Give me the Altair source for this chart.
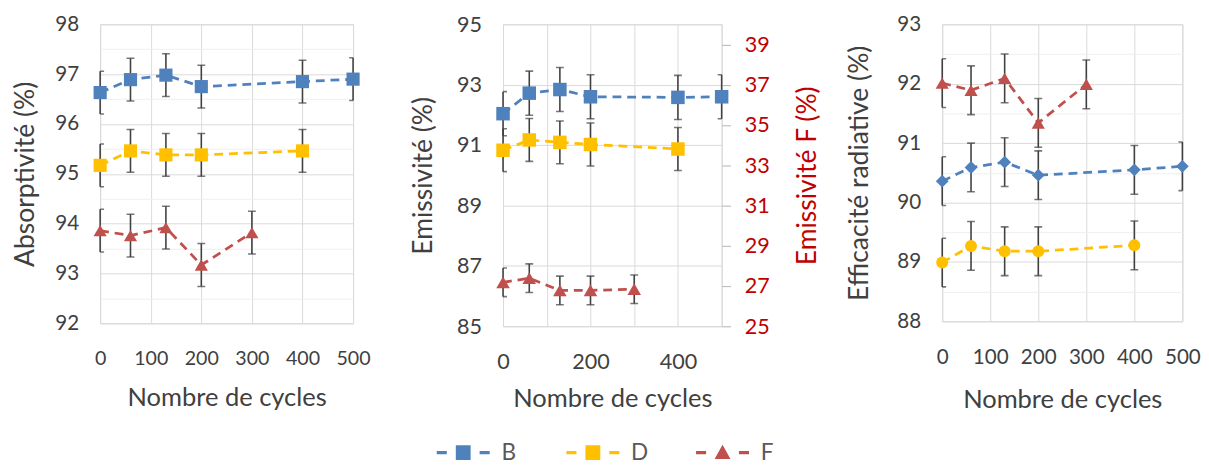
import altair as alt
import pandas as pd

# ---------------- data ----------------
SERIES = ["B", "D", "F"]
COLORS = ["#4F81BD", "#FFC000", "#C0504D"]

CYCLES = {
    "B": [0, 60, 130, 200, 400, 500],
    "D": [0, 60, 130, 200, 400],
    "F": [0, 60, 130, 200, 300],
}

# Panel 1: Absorptivité (%)
ABS_B = [96.63, 96.89, 96.98, 96.75, 96.85, 96.90]
ABS_D = [95.17, 95.46, 95.38, 95.38, 95.46]
ABS_F = [93.86, 93.76, 93.92, 93.17, 93.82]
ABS_ERR = {"B": 0.43, "D": 0.43, "F": 0.43}

# Panel 2: Emissivité (%)  (F on right axis: Emissivité F (%))
EMI_B = [92.04, 92.72, 92.84, 92.60, 92.58, 92.60]
EMI_D = [90.83, 91.17, 91.09, 91.02, 90.87]
EMI_F = [27.18, 27.39, 26.78, 26.78, 26.84]
EMI_ERR = {"B": 0.73, "D": 0.71, "F": 0.71}

# Panel 3: Efficacité radiative (%)
EFF_B = [90.36, 90.59, 90.68, 90.46, 90.55, 90.61]
EFF_D = [88.99, 89.27, 89.18, 89.18, 89.28]
EFF_F = [92.01, 91.89, 92.09, 91.34, 91.99]
EFF_ERR = {"B": 0.41, "D": 0.41, "F": 0.41}

X_TICKS = [0, 100, 200, 300, 400, 500]
ABS_TICKS = [92, 92.5, 93, 93.5, 94, 94.5, 95, 95.5, 96, 96.5, 97, 97.5, 98]
EMI_TICKS = [85, 87, 89, 91, 93, 95]
EMIF_TICKS = [25, 27, 29, 31, 33, 35, 37, 39]
EFF_TICKS = [88, 88.5, 89, 89.5, 90, 90.5, 91, 91.5, 92, 92.5, 93]

# ---------------- styling ----------------
FONT = "Lato"
TXT = "#404040"
ERRC = "#404040"
GRID = "#D9D9D9"
MINOR = "#EFEFEF"
RED_AX = "#C00000"
YT = 27   # y-title font size
XT = 26   # x-title font size
COLOR_OF = dict(zip(SERIES, COLORS))
color_scale = alt.Scale(domain=SERIES, range=COLORS)

SQ_PATH = "M-1,-0.06H-0.62V0.06H-1Z M-0.28,-0.28H0.28V0.28H-0.28Z M0.62,-0.06H1V0.06H0.62Z"
TRI_PATH = "M-1,-0.06H-0.62V0.06H-1Z M0,-0.3L0.3,0.24H-0.3Z M0.62,-0.06H1V0.06H0.62Z"


def frame(vals, errs, series=SERIES):
    rows = []
    for s in series:
        for c, v in zip(CYCLES[s], vals[s]):
            rows.append({"ser": s, "cyc": c, "val": v, "lo": v - errs[s], "hi": v + errs[s]})
    return pd.DataFrame(rows)


def x_axis(label_expr, lpad, tpad, lsize):
    return alt.Axis(values=X_TICKS, labelExpr=label_expr, title="Nombre de cycles",
                    ticks=False, domain=False, grid=True, gridColor=GRID,
                    labelFontSize=lsize, labelPadding=lpad, titleFontSize=XT,
                    titlePadding=tpad, labelFlush=False)


def y_axis_minor(values, title, tpad):
    return alt.Axis(values=values,
                    labelExpr="datum.value % 1 === 0 ? toString(datum.value) : ''",
                    gridColor={"condition": {"test": "datum.value % 1 !== 0", "value": MINOR},
                               "value": GRID},
                    ticks=False, domain=False, title=title, labelFontSize=21,
                    labelPadding=22, titleFontSize=YT, titlePadding=tpad, labelFlush=False)


def error_layers(base, x, yscale, yaxis):
    rule = base.mark_rule(color=ERRC, strokeWidth=1.6).encode(
        x=x, y=alt.Y("lo:Q", scale=yscale, axis=yaxis), y2="hi:Q")
    lo = base.mark_tick(color=ERRC, orient="horizontal", size=8, thickness=1.6, clip=True).encode(
        x=x, y=alt.Y("lo:Q", scale=yscale, axis=yaxis))
    hi = base.mark_tick(color=ERRC, orient="horizontal", size=8, thickness=1.6, clip=True).encode(
        x=x, y=alt.Y("hi:Q", scale=yscale, axis=yaxis))
    return [rule, lo, hi]


def line_layer(base, x, yscale, yaxis):
    return base.mark_line(strokeDash=[9, 6], strokeWidth=2.8).encode(
        x=x, y=alt.Y("val:Q", scale=yscale, axis=yaxis),
        color=alt.Color("ser:N", scale=color_scale, legend=None), detail="ser:N")


def yscale(dom):
    return alt.Scale(domain=dom, nice=False, zero=False, padding=0)


xscale = alt.Scale(domain=[0, 500], nice=False, zero=False, padding=0)

# ---------------- panel 1 ----------------
df1 = frame({"B": ABS_B, "D": ABS_D, "F": ABS_F}, ABS_ERR)
b1 = alt.Chart(df1)
x1 = alt.X("cyc:Q", scale=xscale, axis=x_axis("toString(datum.value)", 26, 17, 20))
ys1 = yscale([92, 98])
ya1 = y_axis_minor(ABS_TICKS, "Absorptivité (%)", 16)
pts1 = b1.mark_point(filled=True, opacity=1, size=180).encode(
    x=x1, y=alt.Y("val:Q", scale=ys1, axis=ya1),
    color=alt.Color("ser:N", scale=color_scale, legend=None),
    shape=alt.Shape("ser:N", scale=alt.Scale(domain=SERIES, range=["square", "square", "triangle-up"]),
                    legend=None),
)
p1 = alt.layer(*error_layers(b1, x1, ys1, ya1), line_layer(b1, x1, ys1, ya1), pts1).properties(
    width=258, height=305)

# ---------------- panel 2 ----------------
df2 = frame({"B": EMI_B, "D": EMI_D}, EMI_ERR, ["B", "D"])
df2f = frame({"F": EMI_F}, EMI_ERR, ["F"])
b2 = alt.Chart(df2)
b2f = alt.Chart(df2f)
x2 = alt.X("cyc:Q", scale=xscale,
           axis=x_axis("datum.value % 200 === 0 ? toString(datum.value) : ''", 26, 14, 22))
ys2 = yscale([85, 95])
ya2 = alt.Axis(values=EMI_TICKS, format="d", ticks=False, domain=False, title="Emissivité (%)",
               labelFontSize=22, labelPadding=22, titleFontSize=YT, titlePadding=19,
               gridColor=GRID, labelFlush=False)
ys2f = yscale([25, 40])
ya2f = alt.Axis(values=EMIF_TICKS, format="d", orient="right", grid=False, domain=False,
                ticks=True, tickSize=9, tickColor="#BFBFBF", tickWidth=1.2,
                title="Emissivité F (%)", labelColor=RED_AX, titleColor=RED_AX, titleAngle=270,
                labelFontSize=22, labelPadding=14, titleFontSize=YT, titlePadding=53,
                labelFlush=False)
pts2 = b2.mark_point(filled=True, opacity=1, size=190, shape="square").encode(
    x=x2, y=alt.Y("val:Q", scale=ys2, axis=ya2),
    color=alt.Color("ser:N", scale=color_scale, legend=None))
pts2f = b2f.mark_point(filled=True, opacity=1, size=190, shape="triangle-up",
                       color=COLOR_OF["F"]).encode(
    x=x2, y=alt.Y("val:Q", scale=ys2f, axis=ya2f))
left2 = alt.layer(*error_layers(b2, x2, ys2, ya2), line_layer(b2, x2, ys2, ya2), pts2)
right2 = alt.layer(*error_layers(b2f, x2, ys2f, ya2f), line_layer(b2f, x2, ys2f, ya2f), pts2f)
p2 = alt.layer(left2, right2).resolve_scale(y="independent").properties(width=223, height=308)

# ---------------- panel 3 ----------------
df3 = frame({"B": EFF_B, "D": EFF_D, "F": EFF_F}, EFF_ERR)
b3 = alt.Chart(df3)
x3 = alt.X("cyc:Q", scale=xscale, axis=x_axis("toString(datum.value)", 26, 20, 21))
ys3 = yscale([88, 93])
ya3 = y_axis_minor(EFF_TICKS, "Efficacité radiative (%)", 24)
shape3 = {"B": ("diamond", 170), "D": ("circle", 150), "F": ("triangle-up", 180)}
pts3 = [
    b3.transform_filter(alt.datum.ser == s).mark_point(
        filled=True, opacity=1, shape=shape3[s][0], size=shape3[s][1], color=COLOR_OF[s]).encode(
        x=x3, y=alt.Y("val:Q", scale=ys3, axis=ya3))
    for s in SERIES
]
p3 = alt.layer(*error_layers(b3, x3, ys3, ya3), line_layer(b3, x3, ys3, ya3), *pts3).properties(
    width=245, height=303)

# ---------------- legend (drawn as a small chart) ----------------
leg_df = pd.DataFrame({"ser": SERIES, "i": list(range(len(SERIES)))})
leg_x = alt.X("i:Q", scale=alt.Scale(domain=[-2.80, 4.76], nice=False, zero=False), axis=None)
leg_sym = alt.Chart(leg_df).mark_point(filled=True, opacity=1, size=2916, strokeWidth=0).encode(
    x=leg_x,
    shape=alt.Shape("ser:N", scale=alt.Scale(domain=SERIES, range=[SQ_PATH, SQ_PATH, TRI_PATH]),
                    legend=None),
    color=alt.Color("ser:N", scale=color_scale, legend=None),
)
leg_txt = alt.Chart(leg_df).mark_text(align="left", baseline="middle", dx=39, fontSize=23,
                                      font=FONT, color="#595959").encode(x=leg_x, text="ser:N")
legend_chart = alt.layer(leg_sym, leg_txt).properties(
    width=1000, height=26, view=alt.ViewBackground(stroke="transparent", strokeWidth=0))

top = alt.hconcat(alt.hconcat(p1, p2, spacing=39), p3, spacing=24)
chart = (
    alt.vconcat(top, legend_chart, spacing=27)
    .resolve_scale(shape="independent")
    .properties(padding={"left": 3, "top": 0, "right": 0, "bottom": 0}, background="white")
    .configure_axis(labelFont=FONT, titleFont=FONT, labelColor=TXT, titleColor=TXT,
                    titleFontWeight="normal")
    .configure_view(stroke=GRID)
)

chart.save("out.html", embed_options={"renderer": "svg", "actions": False})
